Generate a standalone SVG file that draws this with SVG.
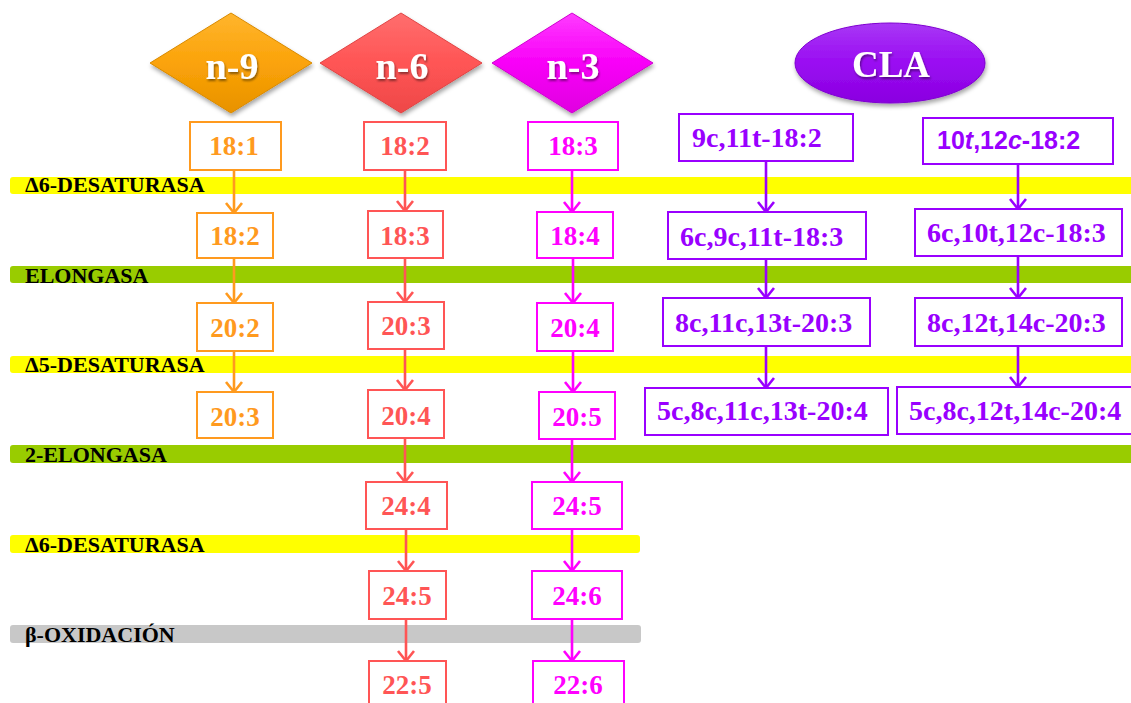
<svg xmlns="http://www.w3.org/2000/svg" width="1131" height="703" viewBox="0 0 1131 703">
<style>
.band-label{font-family:"Liberation Serif","Times New Roman",serif;font-weight:bold;font-size:22px;fill:#000}
.lbl{font-family:"Liberation Serif","Times New Roman",serif;font-weight:bold;font-size:27px;text-anchor:middle}
.cla{font-family:"Liberation Serif","Times New Roman",serif;font-weight:bold;font-size:28px;fill:#9900FF}
.sans{font-family:"Liberation Sans",Arial,sans-serif;font-weight:bold;font-size:25px;fill:#9900FF}
.head{font-family:"Liberation Serif","Times New Roman",serif;font-weight:bold;fill:#fff;text-anchor:middle}
.o rect{stroke:#FF9A1E}
.o text{fill:#FF9A1E}
.r rect{stroke:#FF5555}
.r text{fill:#FF5555}
.m rect{stroke:#FF00FF}
.m text{fill:#FF00FF}
.p rect{stroke:#9900FF}
.box rect{fill:#fff;stroke-width:2}
.con{fill:none;stroke-width:2.6}
</style>
<defs>
<linearGradient id="gO" x1="0" y1="0" x2="0" y2="1"><stop offset="0" stop-color="#FFB52E"/><stop offset="0.5" stop-color="#FBA309"/><stop offset="1" stop-color="#E89200"/></linearGradient>
<linearGradient id="gR" x1="0" y1="0" x2="0" y2="1"><stop offset="0" stop-color="#FF6E6E"/><stop offset="0.5" stop-color="#FF5555"/><stop offset="1" stop-color="#EE4848"/></linearGradient>
<linearGradient id="gM" x1="0" y1="0" x2="0" y2="1"><stop offset="0" stop-color="#FF3BFF"/><stop offset="0.5" stop-color="#F800F8"/><stop offset="1" stop-color="#E000E0"/></linearGradient>
<linearGradient id="gP" x1="0" y1="0" x2="0" y2="1"><stop offset="0" stop-color="#A838F5"/><stop offset="0.5" stop-color="#9A0CF2"/><stop offset="1" stop-color="#8A00E0"/></linearGradient>
<filter id="sh" x="-20%" y="-20%" width="140%" height="150%"><feDropShadow dx="1" dy="3" stdDeviation="2" flood-color="#000" flood-opacity="0.35"/></filter>
<filter id="tsh" x="-20%" y="-20%" width="140%" height="150%"><feDropShadow dx="1" dy="2" stdDeviation="1" flood-color="#000" flood-opacity="0.45"/></filter>
<marker id="aO" markerUnits="userSpaceOnUse" markerWidth="14" markerHeight="18" viewBox="-1 -1 14 18" refX="11" refY="8" orient="auto" overflow="visible"><path d="M1,0 L11,8 L1,16" fill="none" stroke="#FF9A1E" stroke-width="2.6"/></marker>
<marker id="aR" markerUnits="userSpaceOnUse" markerWidth="14" markerHeight="18" viewBox="-1 -1 14 18" refX="11" refY="8" orient="auto" overflow="visible"><path d="M1,0 L11,8 L1,16" fill="none" stroke="#FF5555" stroke-width="2.6"/></marker>
<marker id="aM" markerUnits="userSpaceOnUse" markerWidth="14" markerHeight="18" viewBox="-1 -1 14 18" refX="11" refY="8" orient="auto" overflow="visible"><path d="M1,0 L11,8 L1,16" fill="none" stroke="#FF00FF" stroke-width="2.6"/></marker>
<marker id="aP" markerUnits="userSpaceOnUse" markerWidth="14" markerHeight="18" viewBox="-1 -1 14 18" refX="11" refY="8" orient="auto" overflow="visible"><path d="M1,0 L11,8 L1,16" fill="none" stroke="#9900FF" stroke-width="2.6"/></marker>
</defs>
<rect width="1131" height="703" fill="#fff"/>

<g id="bands">
<rect x="10" y="177" width="1125" height="17" rx="3" fill="#FFFF00"/>
<text class="band-label" x="25" y="192">Δ6-DESATURASA</text>
<rect x="10" y="266" width="1125" height="17" rx="3" fill="#99CC00"/>
<text class="band-label" x="25" y="283">ELONGASA</text>
<rect x="10" y="356" width="1125" height="17" rx="3" fill="#FFFF00"/>
<text class="band-label" x="25" y="372">Δ5-DESATURASA</text>
<rect x="10" y="445" width="1125" height="18" rx="3" fill="#99CC00"/>
<text class="band-label" x="25" y="462">2-ELONGASA</text>
<rect x="10" y="535" width="630" height="18" rx="3" fill="#FFFF00"/>
<text class="band-label" x="25" y="552">Δ6-DESATURASA</text>
<rect x="10" y="625" width="631" height="18" rx="3" fill="#C8C8C8"/>
<text class="band-label" x="25" y="642">β-OXIDACIÓN</text>
</g>

<g id="head-n9">
<polygon points="150,63 231,13 312,63 231,113" fill="url(#gO)" stroke="#D98A00" stroke-width="1" filter="url(#sh)"/>
<text class="head" x="232" y="79" font-size="38" filter="url(#tsh)">n-9</text>
</g>
<g id="head-n6">
<polygon points="320,63 401,13 482,63 401,113" fill="url(#gR)" stroke="#E04444" stroke-width="1" filter="url(#sh)"/>
<text class="head" x="402" y="79" font-size="38" filter="url(#tsh)">n-6</text>
</g>
<g id="head-n3">
<polygon points="492,63 572,13 653,63 572,113" fill="url(#gM)" stroke="#D000D0" stroke-width="1" filter="url(#sh)"/>
<text class="head" x="573" y="79" font-size="38" filter="url(#tsh)">n-3</text>
</g>
<g id="head-cla">
<ellipse cx="890" cy="63" rx="95" ry="40" fill="url(#gP)" stroke="#7F00D0" stroke-width="1" filter="url(#sh)"/>
<text class="head" x="891" y="77" font-size="37" filter="url(#tsh)">CLA</text>
</g>

<g id="connectors" class="con">
<path d="M234,170 V213" stroke="#FF9A1E" marker-end="url(#aO)"/>
<path d="M234,258 V303" stroke="#FF9A1E" marker-end="url(#aO)"/>
<path d="M234,351 V392" stroke="#FF9A1E" marker-end="url(#aO)"/>

<path d="M405,170 V211" stroke="#FF5555" marker-end="url(#aR)"/>
<path d="M405,258 V302" stroke="#FF5555" marker-end="url(#aR)"/>
<path d="M405,349 V390" stroke="#FF5555" marker-end="url(#aR)"/>
<path d="M405,438 V482" stroke="#FF5555" marker-end="url(#aR)"/>
<path d="M406,529 V571" stroke="#FF5555" marker-end="url(#aR)"/>
<path d="M406,619 V661" stroke="#FF5555" marker-end="url(#aR)"/>

<path d="M572,170 V212" stroke="#FF00FF" marker-end="url(#aM)"/>
<path d="M573,258 V303" stroke="#FF00FF" marker-end="url(#aM)"/>
<path d="M573,351 V392" stroke="#FF00FF" marker-end="url(#aM)"/>
<path d="M572,439 V482" stroke="#FF00FF" marker-end="url(#aM)"/>
<path d="M572,529 V571" stroke="#FF00FF" marker-end="url(#aM)"/>
<path d="M572,619 V661" stroke="#FF00FF" marker-end="url(#aM)"/>

<path d="M766,161 V212" stroke="#9900FF" marker-end="url(#aP)"/>
<path d="M766,259 V298" stroke="#9900FF" marker-end="url(#aP)"/>
<path d="M766,346 V388" stroke="#9900FF" marker-end="url(#aP)"/>
<path d="M1018,164 V209" stroke="#9900FF" marker-end="url(#aP)"/>
<path d="M1018,256 V298" stroke="#9900FF" marker-end="url(#aP)"/>
<path d="M1018,346 V387" stroke="#9900FF" marker-end="url(#aP)"/>
</g>

<g id="n9-18-1" class="box o"><rect x="190" y="122" width="91" height="48"/><text class="lbl" x="234" y="155">18:1</text></g>
<g id="n9-18-2" class="box o"><rect x="197" y="213" width="76" height="45"/><text class="lbl" x="235" y="245">18:2</text></g>
<g id="n9-20-2" class="box o"><rect x="197" y="303" width="76" height="48"/><text class="lbl" x="235" y="337">20:2</text></g>
<g id="n9-20-3" class="box o"><rect x="197" y="392" width="76" height="46"/><text class="lbl" x="235" y="426">20:3</text></g>

<g id="n6-18-2" class="box r"><rect x="364" y="122" width="82" height="48"/><text class="lbl" x="405" y="155">18:2</text></g>
<g id="n6-18-3" class="box r"><rect x="368" y="211" width="75" height="47"/><text class="lbl" x="405" y="245">18:3</text></g>
<g id="n6-20-3" class="box r"><rect x="368" y="302" width="76" height="47"/><text class="lbl" x="406" y="335">20:3</text></g>
<g id="n6-20-4" class="box r"><rect x="368" y="390" width="76" height="48"/><text class="lbl" x="406" y="425">20:4</text></g>
<g id="n6-24-4" class="box r"><rect x="366" y="482" width="81" height="47"/><text class="lbl" x="406" y="515">24:4</text></g>
<g id="n6-24-5" class="box r"><rect x="369" y="571" width="77" height="48"/><text class="lbl" x="407" y="605">24:5</text></g>
<g id="n6-22-5" class="box r"><rect x="369" y="661" width="77" height="50"/><text class="lbl" x="407" y="694">22:5</text></g>

<g id="n3-18-3" class="box m"><rect x="528" y="122" width="90" height="48"/><text class="lbl" x="573" y="155">18:3</text></g>
<g id="n3-18-4" class="box m"><rect x="537" y="212" width="76" height="46"/><text class="lbl" x="575" y="245">18:4</text></g>
<g id="n3-20-4" class="box m"><rect x="537" y="303" width="76" height="48"/><text class="lbl" x="575" y="337">20:4</text></g>
<g id="n3-20-5" class="box m"><rect x="539" y="392" width="76" height="47"/><text class="lbl" x="577" y="426">20:5</text></g>
<g id="n3-24-5" class="box m"><rect x="532" y="482" width="90" height="47"/><text class="lbl" x="577" y="515">24:5</text></g>
<g id="n3-24-6" class="box m"><rect x="532" y="571" width="90" height="48"/><text class="lbl" x="577" y="605">24:6</text></g>
<g id="n3-22-6" class="box m"><rect x="533" y="661" width="91" height="50"/><text class="lbl" x="578" y="694">22:6</text></g>

<g id="cla-a1" class="box p"><rect x="679" y="114" width="174" height="47"/><text class="cla" x="692" y="147">9c,11t-18:2</text></g>
<g id="cla-a2" class="box p"><rect x="668" y="212" width="198" height="47"/><text class="cla" x="680" y="246">6c,9c,11t-18:3</text></g>
<g id="cla-a3" class="box p"><rect x="663" y="298" width="207" height="48"/><text class="cla" x="675" y="332">8c,11c,13t-20:3</text></g>
<g id="cla-a4" class="box p"><rect x="645" y="388" width="243" height="47"/><text class="cla" x="657" y="420">5c,8c,11c,13t-20:4</text></g>

<g id="cla-b1" class="box p"><rect x="923" y="118" width="190" height="46"/><text class="sans" x="937" y="149">10<tspan font-style="italic">t</tspan>,12<tspan font-style="italic">c</tspan>-18:2</text></g>
<g id="cla-b2" class="box p"><rect x="915" y="209" width="207" height="47"/><text class="cla" x="927" y="242">6c,10t,12c-18:3</text></g>
<g id="cla-b3" class="box p"><rect x="915" y="298" width="207" height="48"/><text class="cla" x="927" y="332">8c,12t,14c-20:3</text></g>
<g id="cla-b4" class="box p"><rect x="897" y="387" width="238" height="47"/><text class="cla" x="909" y="420">5c,8c,12t,14c-20:4</text></g>
</svg>
